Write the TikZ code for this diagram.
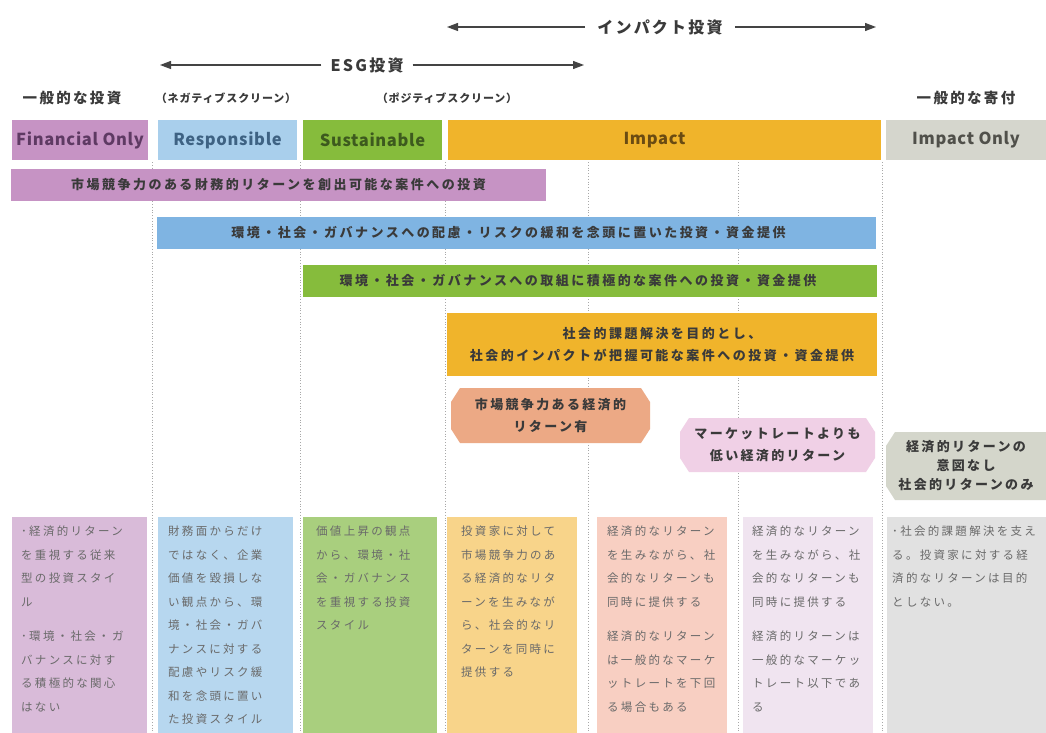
\documentclass[tikz,border=0pt]{standalone}
\usepackage{fontspec}
\setmainfont{Noto Sans CJK JP}
\usetikzlibrary{arrows.meta}
\definecolor{cFin}{HTML}{C693C4}
\definecolor{cRes}{HTML}{A9CFEC}
\definecolor{cResRow}{HTML}{7FB4E2}
\definecolor{cSus}{HTML}{86BC3C}
\definecolor{cImp}{HTML}{F0B42B}
\definecolor{cImo}{HTML}{D5D6CD}
\definecolor{cFinT}{HTML}{5E3A63}
\definecolor{cResT}{HTML}{3E6283}
\definecolor{cSusT}{HTML}{3D5A1E}
\definecolor{cImpT}{HTML}{6A4B12}
\definecolor{cImoT}{HTML}{50504A}
\definecolor{hSal}{HTML}{ECA985}
\definecolor{hPink}{HTML}{F0D0E6}
\definecolor{hGray}{HTML}{D4D6CB}
\definecolor{bPur}{HTML}{D9BBD9}
\definecolor{bBlu}{HTML}{B7D7EF}
\definecolor{bGrn}{HTML}{A9CF7E}
\definecolor{bYel}{HTML}{F8D48A}
\definecolor{bSal}{HTML}{F8CFC2}
\definecolor{bLav}{HTML}{F0E4F0}
\definecolor{bGry}{HTML}{E1E1E1}
\definecolor{txtdark}{HTML}{3A3A3A}
\definecolor{txtgray}{HTML}{6A6A6A}
\definecolor{arrgray}{HTML}{444444}
\definecolor{lgray}{HTML}{A8A8A8}
\newcommand\lsp[1]{\addfontfeature{LetterSpace=#1}}
\newcommand\hexbox[5]{\fill[#5] ({#1+9},#2) -- ({#3-9},#2) -- (#3,{#2+14}) -- (#3,{#4-14}) -- ({#3-9},#4) -- ({#1+9},#4) -- (#1,{#4-14}) -- (#1,{#2+14}) -- cycle;}
\tikzset{
  hdrbox/.style={inner sep=0pt, minimum height=40, font=\fontsize{16.5}{17}\selectfont\bfseries\lsp{4}},
  rowbox/.style={inner sep=0pt, minimum height=32, align=center, text=txtdark, font=\fontsize{13}{22}\selectfont\bfseries\lsp{19}},
  hexlbl/.style={inner sep=0pt, align=center, font=\fontsize{13}{22}\selectfont\bfseries\lsp{18}},
  toplbl/.style={inner sep=0pt, text=txtdark, font=\fontsize{14.5}{15}\selectfont\bfseries\lsp{16}},
  scrlbl/.style={inner sep=0pt, text=txtdark, font=\fontsize{11}{11}\selectfont\bfseries\lsp{8}},
  arrlbl/.style={inner ysep=0pt, text=txtdark, font=\fontsize{16}{16}\selectfont\bfseries\lsp{14}},
  botbox/.style={inner sep=0pt, anchor=north west, minimum height=230},
  bottxt/.style={inner sep=0pt, anchor=north west, align=left, text=txtgray, font=\fontsize{11.5}{23.5}\selectfont\lsp{20}},
  arr/.style={line width=1.2pt, draw=arrgray, -{Triangle[length=11pt,width=8pt]}},
  vline/.style={draw=lgray, line width=0.8pt, dotted},
}
\begin{document}
\begin{tikzpicture}[x=1pt,y=-1pt]
\useasboundingbox (0,0) rectangle (1046,733);
\fill[white] (0,0) rectangle (1046,733);

% vertical dotted guides
\foreach \i/\x in {1/152,2/300,3/445,4/588,5/738,6/882}{
  \coordinate (vt\i) at (\x,162);
  \coordinate (vb\i) at (\x,733);
  \draw[vline] (vt\i) -- (vb\i);
}

% top arrows
\node[arrlbl, inner xsep=12pt] (imparr) at (660,27) {インパクト投資};
\coordinate (impL) at (447,27);
\coordinate (impR) at (876,27);
\draw[arr] (imparr.west) -- (impL);
\draw[arr] (imparr.east) -- (impR);
\node[arrlbl, inner xsep=9pt] (esgarr) at (367,65) {ESG投資};
\coordinate (esgL) at (160,65);
\coordinate (esgR) at (584,65);
\draw[arr] (esgarr.west) -- (esgL);
\draw[arr] (esgarr.east) -- (esgR);

% label row
\node[toplbl] (gen) at (72,98) {一般的な投資};
\node[scrlbl] (neg) at (226,98) {（ネガティブスクリーン）};
\node[scrlbl] (pos) at (447,98) {（ポジティブスクリーン）};
\node[toplbl] (don) at (966,98) {一般的な寄付};

% header boxes
\node[hdrbox, fill=cFin, text=cFinT, minimum width=136] (fin) at (80,140) {Financial Only};
\node[hdrbox, fill=cRes, text=cResT, minimum width=139] (res) at (227.5,140) {Responsible};
\node[hdrbox, fill=cSus, text=cSusT, minimum width=139] (sus) at (372.5,140) {Sustainable};
\node[hdrbox, fill=cImp, text=cImpT, minimum width=433] (imp) at (664.5,140) {\hspace*{-20pt}Impact};
\node[hdrbox, fill=cImo, text=cImoT, minimum width=160] (imo) at (966,140) {Impact Only};

% band rows
\node[rowbox, fill=cFin, minimum width=535] (r1) at (278.5,184.5) {市場競争力のある財務的リターンを創出可能な案件への投資};
\node[rowbox, fill=cResRow, minimum width=719] (r2) at (516.5,233) {環境・社会・ガバナンスへの配慮・リスクの緩和を念頭に置いた投資・資金提供\hspace*{16pt}};
\node[rowbox, fill=cSus, minimum width=574] (r3) at (590,281) {環境・社会・ガバナンスへの取組に積極的な案件への投資・資金提供\hspace*{24pt}};
\node[rowbox, fill=cImp, minimum width=430, minimum height=63] (r4) at (662,344.5) {社会的課題解決を目的とし、\\社会的インパクトが把握可能な案件への投資・資金提供};

% return shapes
\hexbox{451}{388}{650}{443}{hSal}
\node[hexlbl, text=txtdark] (h1) at (550.5,415.5) {市場競争力ある経済的\\リターン有};
\hexbox{680}{418}{875}{472}{hPink}
\node[hexlbl, text=txtdark] (h2) at (777.5,445) {マーケットレートよりも\\低い経済的リターン};
\fill[hGray] (895,432) -- (1046,432) -- (1046,500) -- (895,500) -- (886,486) -- (886,446) -- cycle;
\node[hexlbl, text=txtdark, font=\fontsize{13}{19}\selectfont\bfseries\lsp{18}] (h3) at (966,466) {経済的リターンの\\意図なし\\社会的リターンのみ};

% bottom boxes
\node[botbox, fill=bPur, minimum width=135] (b1) at (12,517) {};
\node[botbox, fill=bBlu, minimum width=135] (b2) at (158,517) {};
\node[botbox, fill=bGrn, minimum width=134] (b3) at (303,517) {};
\node[botbox, fill=bYel, minimum width=130] (b4) at (447,517) {};
\node[botbox, fill=bSal, minimum width=130] (b5) at (597,517) {};
\node[botbox, fill=bLav, minimum width=130] (b6) at (743,517) {};
\node[botbox, fill=bGry, minimum width=170] (b7) at (887,517) {};

\node[bottxt] (t1) at ([xshift=9pt,yshift=-9pt]b1.north west) {･経済的リターン\\を重視する従来\\型の投資スタイ\\ル\\[11pt]･環境・社会・ガ\\バナンスに対す\\る積極的な関心\\はない};
\node[bottxt] (t2) at ([xshift=10pt,yshift=-9pt]b2.north west) {財務面からだけ\\ではなく、企業\\価値を毀損しな\\い観点から、環\\境・社会・ガバ\\ナンスに対する\\配慮やリスク緩\\和を念頭に置い\\た投資スタイル};
\node[bottxt] (t3) at ([xshift=13pt,yshift=-9pt]b3.north west) {価値上昇の観点\\から、環境・社\\会・ガバナンス\\を重視する投資\\スタイル};
\node[bottxt] (t4) at ([xshift=14pt,yshift=-9pt]b4.north west) {投資家に対して\\市場競争力のあ\\る経済的なリタ\\ーンを生みなが\\ら、社会的なリ\\ターンを同時に\\提供する};
\node[bottxt] (t5) at ([xshift=10pt,yshift=-9pt]b5.north west) {経済的なリターン\\を生みながら、社\\会的なリターンも\\同時に提供する\\[11pt]経済的なリターン\\は一般的なマーケ\\ットレートを下回\\る場合もある};
\node[bottxt] (t6) at ([xshift=9pt,yshift=-9pt]b6.north west) {経済的なリターン\\を生みながら、社\\会的なリターンも\\同時に提供する\\[11pt]経済的リターンは\\一般的なマーケッ\\トレート以下であ\\る};
\node[bottxt] (t7) at ([xshift=5pt,yshift=-9pt]b7.north west) {･社会的課題解決を支え\\る。投資家に対する経\\済的なリターンは目的\\としない。};
\end{tikzpicture}
\end{document}
